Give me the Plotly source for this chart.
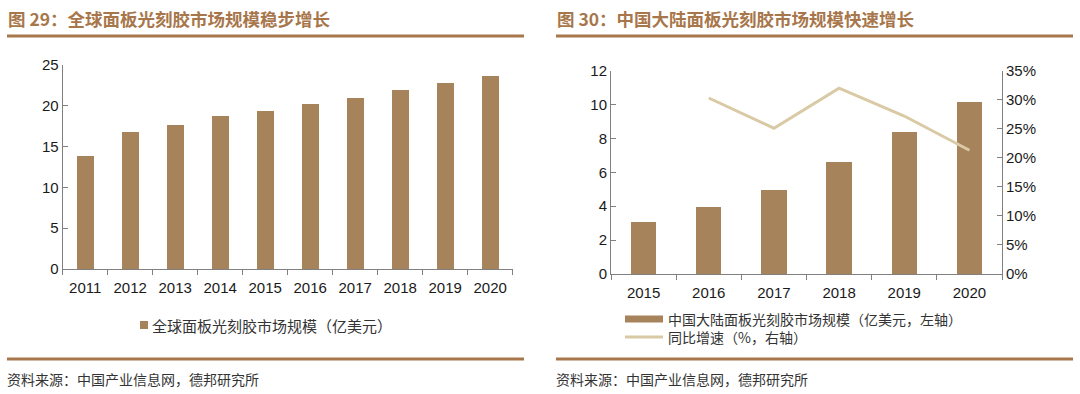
import plotly.graph_objects as go

# ---- data ----
years_global = ["2011", "2012", "2013", "2014", "2015", "2016", "2017", "2018", "2019", "2020"]
global_market = [13.9, 16.8, 17.7, 18.7, 19.4, 20.2, 21.0, 21.9, 22.8, 23.7]

years_china = ["2015", "2016", "2017", "2018", "2019", "2020"]
china_market = [3.1, 4.0, 5.0, 6.6, 8.4, 10.2]
china_growth = [None, 0.303, 0.251, 0.320, 0.272, 0.213]

title_left = "图 29：全球面板光刻胶市场规模稳步增长"
title_right = "图 30：中国大陆面板光刻胶市场规模快速增长"
legend_left = "全球面板光刻胶市场规模（亿美元）"
legend_right_bar = "中国大陆面板光刻胶市场规模（亿美元，左轴）"
legend_right_line = "同比增速（%，右轴）"
source_text = "资料来源：中国产业信息网，德邦研究所"

# ---- style ----
W, H = 1080, 394
BAR = "#A6835B"
LINE = "#D9CAA5"
BROWN = "#A8764B"
AXIS = "#808080"
TICKFONT = dict(family="Liberation Sans, Arial", size=15, color="#1a1a1a")
CJK = "Noto Sans CJK SC"


def px(x):
    return x / W


def py(y):
    return 1 - y / H


fig = go.Figure()

fig.add_trace(go.Bar(x=years_global, y=global_market, marker_color=BAR, width=0.38,
                     xaxis="x", yaxis="y", showlegend=False))
fig.add_trace(go.Bar(x=years_china, y=china_market, marker_color=BAR, width=0.39,
                     xaxis="x2", yaxis="y2", showlegend=False))
fig.add_trace(go.Scatter(x=years_china, y=china_growth, mode="lines",
                         line=dict(color=LINE, width=3), xaxis="x2", yaxis="y3",
                         showlegend=False))

common_x = dict(type="category", showline=True, linecolor=AXIS, linewidth=1,
                ticks="outside", tickson="boundaries", ticklen=5, tickcolor=AXIS,
                tickfont=TICKFONT, showgrid=False, zeroline=False, automargin=False,
                ticklabelstandoff=5)
common_y = dict(showline=True, linecolor=AXIS, linewidth=1, ticks="inside",
                ticklen=5, tickcolor=AXIS, tickfont=TICKFONT, showgrid=False,
                zeroline=False, automargin=False)

fig.update_layout(
    template="none",
    width=W, height=H, autosize=False,
    margin=dict(l=0, r=0, t=0, b=0, pad=0),
    paper_bgcolor="white", plot_bgcolor="white",
    showlegend=False,
    bargap=0,
    xaxis=dict(domain=[px(62.7), px(512.7)], anchor="y", **common_x),
    yaxis=dict(domain=[py(269), py(65)], anchor="x", range=[0, 25], dtick=5, **common_y),
    xaxis2=dict(domain=[px(611), px(1002)], anchor="y2", **common_x),
    yaxis2=dict(domain=[py(274), py(70.7)], anchor="x2", range=[0, 12], dtick=2, **common_y),
    yaxis3=dict(overlaying="y2", side="right", anchor="x2", range=[0, 0.35], dtick=0.05,
                tickformat=".0%", **common_y),
)

shapes = []
for x0, x1 in [(7, 524), (556, 1073)]:
    for y in (36, 359):
        shapes.append(dict(type="line", xref="paper", yref="paper",
                           x0=px(x0), x1=px(x1), y0=py(y), y1=py(y),
                           line=dict(color=BROWN, width=3)))
# legend swatches
shapes.append(dict(type="rect", xref="paper", yref="paper", x0=px(140), x1=px(148),
                   y0=py(329), y1=py(321), fillcolor=BAR, line=dict(width=0)))
shapes.append(dict(type="rect", xref="paper", yref="paper", x0=px(625), x1=px(663),
                   y0=py(322.5), y1=py(315.5), fillcolor=BAR, line=dict(width=0)))
shapes.append(dict(type="line", xref="paper", yref="paper", x0=px(625), x1=px(663),
                   y0=py(337), y1=py(337), line=dict(color=LINE, width=3)))
fig.update_layout(shapes=shapes)

ann = []


def text(x, y, s, size, color, bold=False):
    ann.append(dict(xref="paper", yref="paper", x=px(x), y=py(y), text=f"<b>{s}</b>" if bold else s,
                    showarrow=False, xanchor="left", yanchor="middle", align="left",
                    font=dict(family=CJK, size=size, color=color)))


text(6, 19, title_left, 17.5, BROWN, bold=True)
text(555, 19, title_right, 17.5, BROWN, bold=True)
text(150, 325, legend_left, 15, "#333333")
text(666, 328, legend_right_bar + "<br>" + legend_right_line, 14, "#333333")
text(5, 379, source_text, 14, "#333333")
text(554, 379, source_text, 14, "#333333")
fig.update_layout(annotations=ann)

fig.write_html("out.html", config={"displayModeBar": False},
               post_script="document.body.style.margin='0';document.body.style.overflow='hidden';")
